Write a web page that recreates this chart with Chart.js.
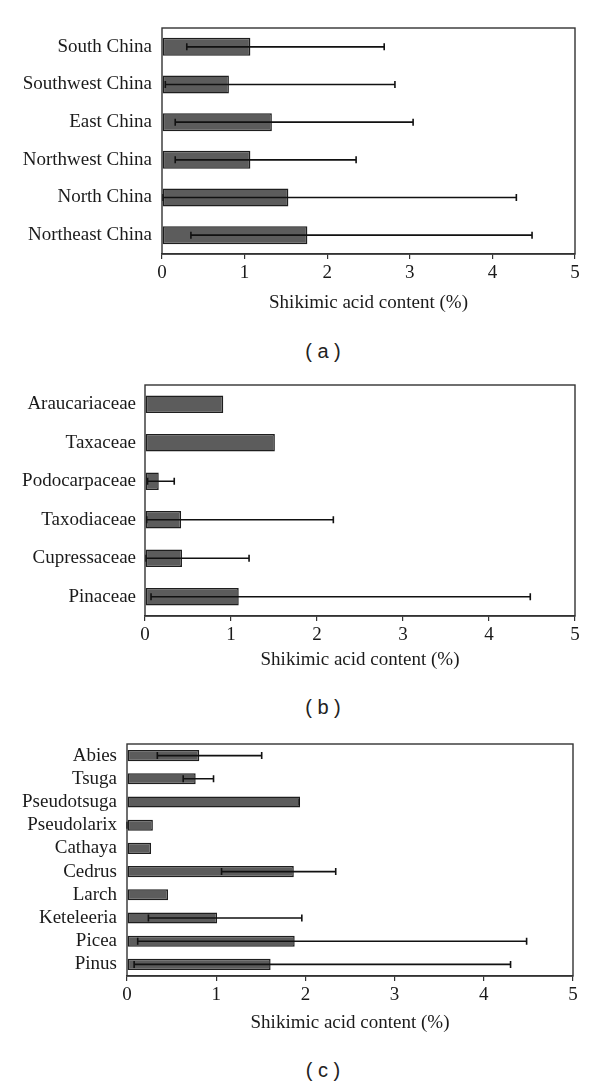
<!DOCTYPE html>
<html>
<head>
<meta charset="utf-8">
<script src="https://cdn.jsdelivr.net/npm/chart.js@4/dist/chart.umd.min.js"></script>
<style>
    body { margin: 0; background: #ffffff; }
    #page { position: relative; width: 600px; height: 1087px; }
    .panel { position: absolute; left: 0; width: 600px; }
    .caption {
        position: absolute; left: 263px; width: 120px; text-align: center;
        font-family: "Liberation Sans", Arial, sans-serif; font-size: 20px; color: #222;
        line-height: 24px;
    }
</style>
</head>
<body>
<div id="page">
    <div class="panel" style="top:0px;height:322px"><canvas id="chartA"></canvas></div>
    <div class="caption" style="top:339px">( a )</div>

    <div class="panel" style="top:357px;height:322px"><canvas id="chartB"></canvas></div>
    <div class="caption" style="top:695px">( b )</div>

    <div class="panel" style="top:716px;height:326px"><canvas id="chartC"></canvas></div>
    <div class="caption" style="top:1058px">( c )</div>
</div>

<script>

// ---------------- DATA ----------------

const xTicks = [0, 1, 2, 3, 4, 5];
const axisTitle = "Shikimic acid content (%)";

// (a) regions
const regionLabels = ["South China", "Southwest China", "East China", "Northwest China", "North China", "Northeast China"];
const regionMeans = [1.07, 0.81, 1.33, 1.07, 1.53, 1.76];
const regionMin = [0.30, 0.04, 0.16, 0.16, 0.01, 0.35];
const regionMax = [2.69, 2.82, 3.04, 2.35, 4.29, 4.48];

// (b) families
const familyLabels = ["Araucariaceae", "Taxaceae", "Podocarpaceae", "Taxodiaceae", "Cupressaceae", "Pinaceae"];
const familyMeans = [0.91, 1.51, 0.16, 0.42, 0.43, 1.09];
const familyMin = [null, null, 0.03, 0.02, 0.01, 0.07];
const familyMax = [null, null, 0.34, 2.19, 1.21, 4.48];

// (c) genera of Pinaceae
const genusLabels = ["Abies", "Tsuga", "Pseudotsuga", "Pseudolarix", "Cathaya", "Cedrus", "Larch", "Keteleeria", "Picea", "Pinus"];
const genusMeans = [0.81, 0.77, 1.94, 0.29, 0.27, 1.87, 0.46, 1.01, 1.88, 1.61];
const genusMin = [0.34, 0.63, 1.93, 0.00, null, 1.06, null, 0.24, 0.12, 0.08];
const genusMax = [1.51, 0.97, 1.93, 0.00, null, 2.34, null, 1.96, 4.48, 4.30];

// ---------------- PLUGINS ----------------

const serif = "'Liberation Serif', 'Times New Roman', serif";

// min-max range bars on each bar, placed with the chart scales
const rangeBars = {
    id: "rangeBars",
    afterDatasetsDraw(chart) {
        const ctx = chart.ctx;
        const xScale = chart.scales.x;
        const meta = chart.getDatasetMeta(0);
        const lows = chart.options.plugins.rangeBars.low;
        const highs = chart.options.plugins.rangeBars.high;
        ctx.save();
        ctx.strokeStyle = "#111111";
        ctx.lineWidth = 1.6;
        meta.data.forEach((bar, i) => {
            if (lows[i] === null) return;
            const x1 = xScale.getPixelForValue(lows[i]);
            const x2 = xScale.getPixelForValue(highs[i]);
            const y = bar.y;
            const cap = 3.5;
            ctx.beginPath();
            ctx.moveTo(x1, y);
            ctx.lineTo(x2, y);
            ctx.moveTo(x1, y - cap);
            ctx.lineTo(x1, y + cap);
            ctx.moveTo(x2, y - cap);
            ctx.lineTo(x2, y + cap);
            ctx.stroke();
        });
        ctx.restore();
    }
};

// box around the plot area
const frameBox = {
    id: "frameBox",
    afterDraw(chart) {
        const a = chart.chartArea;
        const ctx = chart.ctx;
        ctx.save();
        ctx.strokeStyle = "#333333";
        ctx.lineWidth = 1.4;
        ctx.strokeRect(a.left, a.top, a.right - a.left, a.bottom - a.top);
        ctx.restore();
    }
};

// ---------------- CHART BUILDER ----------------

function makeChart(id, labels, means, lows, highs, box) {

    new Chart(document.getElementById(id), {

        type: "bar",

        data: {
            labels: labels,
            datasets: [{
                data: means,
                backgroundColor: "#5c5c5c",
                borderColor: "#1e1e1e",
                borderWidth: 1.5,
                borderSkipped: false,
                barPercentage: box.bar,
                categoryPercentage: 1
            }]
        },

        options: {
            indexAxis: "y",
            responsive: true,
            maintainAspectRatio: false,
            animation: false,
            layout: {
                padding: { top: box.top, right: box.right, bottom: 4, left: 0 }
            },
            plugins: {
                legend: { display: false },
                tooltip: { enabled: false },
                rangeBars: { low: lows, high: highs }
            },
            scales: {
                x: {
                    min: 0,
                    max: 5,
                    afterBuildTicks: scale => {
                        scale.ticks = xTicks.map(v => ({ value: v }));
                    },
                    afterFit: scale => { scale.height = box.xHeight; },
                    grid: {
                        display: true,
                        drawOnChartArea: false,
                        drawTicks: true,
                        tickLength: 5,
                        color: "#333333",
                        lineWidth: 1.2
                    },
                    border: { display: true, color: "#333333", width: 1.4 },
                    ticks: {
                        padding: 3,
                        color: "#1a1a1a",
                        font: { family: serif, size: 19 }
                    },
                    title: {
                        display: true,
                        text: axisTitle,
                        color: "#1a1a1a",
                        font: { family: serif, size: 19, lineHeight: 1.2 }
                    }
                },
                y: {
                    afterFit: scale => { scale.width = box.left; },
                    grid: { display: false, drawTicks: false },
                    border: { display: false },
                    ticks: {
                        autoSkip: false,
                        padding: box.pad,
                        color: "#1a1a1a",
                        font: { family: serif, size: 19 }
                    }
                }
            }
        },

        plugins: [rangeBars, frameBox]
    });
}

makeChart("chartA", regionLabels, regionMeans, regionMin, regionMax,
    { top: 28, right: 25, left: 162, xHeight: 64, bar: 0.48, pad: 10 });

makeChart("chartB", familyLabels, familyMeans, familyMin, familyMax,
    { top: 28, right: 25, left: 145, xHeight: 59, bar: 0.45, pad: 9 });

makeChart("chartC", genusLabels, genusMeans, genusMin, genusMax,
    { top: 28, right: 27, left: 127, xHeight: 62, bar: 0.48, pad: 10 });

</script>
</body>
</html>
